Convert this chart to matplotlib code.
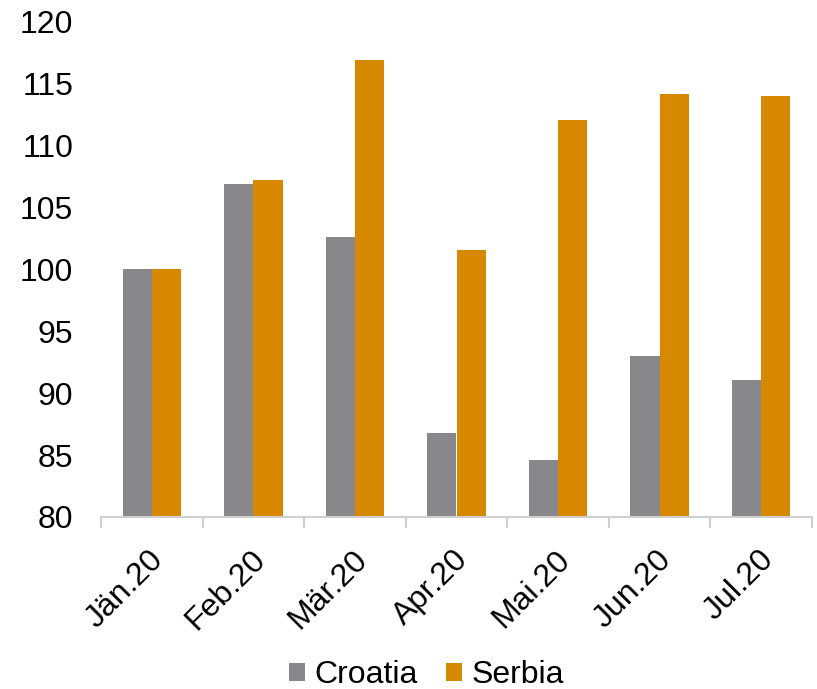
import matplotlib
matplotlib.use('Agg')
import matplotlib.pyplot as plt
import numpy as np

# Data
months = ['Jän.20', 'Feb.20', 'Mär.20', 'Apr.20', 'Mai.20', 'Jun.20', 'Jul.20']
croatia = [100.0, 106.9, 102.6, 86.8, 84.6, 93.0, 91.1]
serbia = [100.0, 107.2, 116.9, 101.6, 112.1, 114.2, 114.0]

plt.rcParams['font.family'] = ['Liberation Sans', 'DejaVu Sans']

fig = plt.figure(figsize=(8.17, 6.89), dpi=100)
ax = fig.add_axes([101 / 817, (689 - 517) / 689, (812 - 101) / 817, (517 - 22) / 689])

x = np.arange(len(months))
w = 0.288
ax.bar(x - w / 2, croatia, w, color='#88878C', label='Croatia')
ax.bar(x + w / 2, serbia, w, color='#D68800', label='Serbia')

ax.set_ylim(80, 120)
ax.set_yticks(range(80, 121, 5))
ax.set_xlim(-0.5, len(months) - 0.5)

# category boundary ticks on x axis
ax.set_xticks(np.arange(-0.5, len(months), 1.0))
ax.set_xticklabels([])
ax.set_xticks(x - 0.03, minor=True)
ax.set_xticklabels(months, minor=True, rotation=45, ha='right', rotation_mode='anchor', fontsize=23)
ax.tick_params(axis='x', which='major', length=8, color='#D0D0D0', width=1.5)
ax.tick_params(axis='x', which='minor', length=0, pad=20)
ax.tick_params(axis='y', length=0, labelsize=23, pad=20)

for s in ['top', 'right', 'left']:
    ax.spines[s].set_visible(False)
ax.spines['bottom'].set_color('#D0D0D0')
ax.spines['bottom'].set_linewidth(1.5)

fig.legend(loc='center', bbox_to_anchor=(0.522, 0.02), ncol=2, frameon=False,
           fontsize=23, handlelength=0.5, handleheight=0.5, handletextpad=0.3,
           columnspacing=0.9)

fig.savefig('out.png', dpi=100)
